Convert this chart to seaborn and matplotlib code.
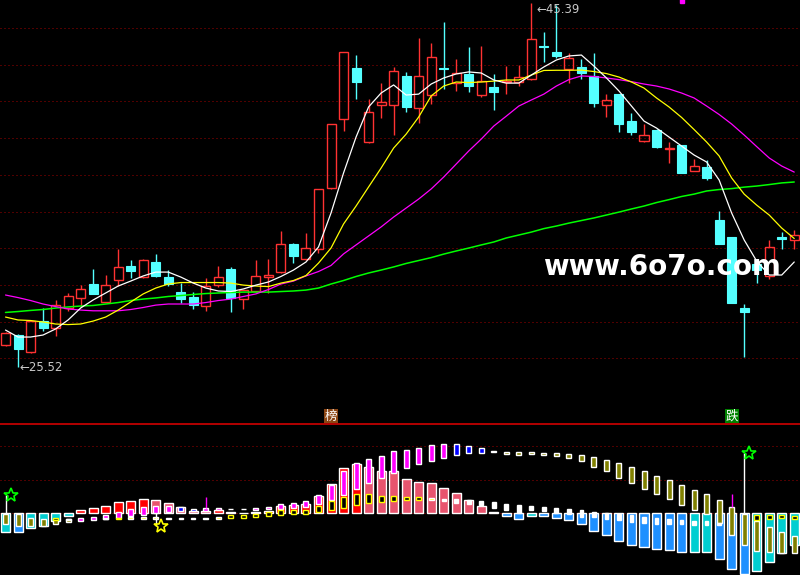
import numpy as np
import pandas as pd
import seaborn as sns
import matplotlib
matplotlib.use("Agg")
import matplotlib.pyplot as plt
from matplotlib.patches import Rectangle
from matplotlib.lines import Line2D

# daily candles, oldest first
opens = [26.73, 27.27, 26.33, 28.03, 27.63, 28.72, 29.30, 30.05, 29.08, 30.29,
         31.03, 30.42, 31.25, 30.43, 29.61, 29.34, 28.83, 30.01, 30.87, 29.22,
         29.68, 30.45, 30.69, 32.23, 31.39, 31.94, 35.26, 39.03, 41.82, 37.80,
         39.82, 39.79, 41.39, 39.66, 40.37, 41.82, 40.99, 41.50, 40.37, 40.77,
         41.04, 41.06, 41.21, 43.02, 42.71, 41.77, 41.88, 41.37, 39.79, 40.40,
         38.93, 37.83, 38.46, 37.39, 37.63, 36.23, 36.43, 33.54, 32.61, 28.76,
         31.14, 30.51, 32.59, 32.45]
highs = [27.45, 27.33, 28.05, 28.72, 29.18, 29.58, 29.99, 30.85, 30.54, 31.96,
         31.36, 31.41, 31.69, 30.81, 30.09, 29.61, 30.36, 31.03, 30.98, 29.74,
         31.36, 31.41, 32.95, 32.30, 32.83, 35.23, 38.77, 42.70, 42.53, 40.13,
         41.00, 41.89, 41.62, 43.47, 43.20, 44.33, 42.31, 42.97, 43.04, 41.49,
         41.93, 41.98, 45.39, 43.80, 45.25, 42.65, 42.30, 42.64, 40.40, 40.42,
         39.35, 38.77, 38.48, 37.79, 37.65, 36.86, 36.81, 34.03, 32.63, 28.96,
         31.30, 32.45, 32.91, 32.99]
lows = [26.67, 25.52, 26.31, 27.49, 27.23, 28.59, 28.78, 29.50, 29.06, 29.96,
        30.39, 30.37, 30.45, 29.96, 29.03, 28.69, 28.59, 29.90, 28.54, 28.70,
        29.63, 29.58, 30.67, 31.21, 31.37, 31.75, 35.24, 38.40, 40.15, 37.75,
        39.11, 38.19, 39.44, 38.84, 39.86, 40.69, 40.57, 40.53, 40.26, 39.55,
        40.40, 40.86, 41.19, 42.16, 42.35, 40.99, 41.22, 39.71, 39.17, 38.35,
        38.19, 37.81, 37.48, 36.64, 36.08, 36.21, 35.72, 32.21, 28.99, 26.07,
        30.11, 30.35, 31.98, 31.96]
closes = [27.36, 26.51, 28.03, 27.67, 28.90, 29.40, 29.78, 29.52, 29.99, 30.98,
          30.76, 31.36, 30.49, 30.03, 29.23, 28.90, 29.92, 30.41, 29.30, 29.72,
          30.49, 30.54, 32.21, 31.58, 31.99, 35.21, 38.75, 42.68, 41.07, 39.41,
          39.95, 41.66, 39.71, 41.37, 42.40, 41.77, 41.55, 40.86, 41.10, 40.53,
          41.11, 41.31, 43.40, 42.99, 42.49, 42.35, 41.56, 39.91, 40.08, 38.79,
          38.33, 38.15, 37.53, 37.46, 36.11, 36.48, 35.84, 32.23, 29.01, 28.54,
          30.81, 32.05, 32.53, 32.72]

ma5 = [27.54, 27.16, 27.16, 27.27, 27.60, 28.09, 28.74, 29.18, 29.56, 29.94,
       30.21, 30.49, 30.70, 30.70, 30.43, 30.10, 29.83, 29.67, 29.64, 29.78,
       29.99, 30.16, 30.46, 30.81, 31.25, 32.07, 33.92, 36.10, 38.06, 39.70,
       40.46, 40.90, 40.35, 40.40, 40.95, 41.28, 41.50, 41.61, 41.55, 41.17,
       41.00, 41.00, 41.44, 41.88, 42.26, 42.48, 42.53, 41.93, 41.28, 40.57,
       39.75, 38.93, 38.55, 38.06, 37.57, 37.08, 36.70, 35.72, 33.92, 32.45,
       31.30, 30.54, 30.54, 31.25]
ma10 = [28.25, 28.09, 28.06, 27.98, 27.87, 27.84, 27.87, 28.03, 28.25, 28.63,
        29.07, 29.51, 29.83, 30.05, 30.13, 30.13, 30.13, 30.13, 30.10, 29.99,
        29.94, 29.91, 30.10, 30.24, 30.51, 31.19, 32.01, 33.32, 34.30, 35.34,
        36.37, 37.46, 38.22, 39.15, 40.30, 40.84, 41.06, 41.03, 41.06, 41.11,
        41.17, 41.17, 41.44, 41.69, 41.70, 41.70, 41.71, 41.63, 41.52, 41.33,
        41.06, 40.73, 40.19, 39.70, 39.13, 38.47, 37.79, 37.03, 35.83, 34.95,
        34.35, 33.81, 33.10, 32.53]
ma20 = [29.45, 29.31, 29.15, 28.96, 28.82, 28.69, 28.63, 28.59, 28.59, 28.59,
        28.66, 28.77, 28.90, 28.96, 28.96, 28.96, 29.04, 29.15, 29.23, 29.37,
        29.51, 29.75, 30.05, 30.21, 30.49, 30.73, 31.06, 31.69, 32.18, 32.67,
        33.16, 33.70, 34.19, 34.68, 35.23, 35.88, 36.59, 37.30, 37.95, 38.66,
        39.20, 39.75, 40.08, 40.40, 40.84, 41.19, 41.39, 41.36, 41.28, 41.19,
        41.08, 40.95, 40.84, 40.68, 40.46, 40.19, 39.75, 39.29, 38.77, 38.17,
        37.54, 36.92, 36.48, 36.15]
ma60 = [28.50, 28.55, 28.61, 28.66, 28.74, 28.80, 28.85, 28.88, 28.96, 29.04,
        29.15, 29.23, 29.29, 29.37, 29.42, 29.48, 29.53, 29.56, 29.59, 29.61,
        29.61, 29.61, 29.64, 29.67, 29.72, 29.83, 30.05, 30.24, 30.46, 30.65,
        30.81, 30.98, 31.17, 31.33, 31.49, 31.68, 31.85, 32.01, 32.18, 32.34,
        32.56, 32.72, 32.88, 33.07, 33.21, 33.37, 33.51, 33.65, 33.81, 33.97,
        34.14, 34.30, 34.49, 34.65, 34.82, 34.95, 35.12, 35.20, 35.25, 35.33,
        35.39, 35.47, 35.56, 35.61]

# lower indicator panel
osc = [-5.5, -5.5, -4.3, -3.7, -2.2, -0.7, 1.0, 1.7, 2.2, 3.4,
       3.7, 4.3, 4.0, 3.1, 1.9, 0.7, 0.7, 1.0, 0.4, 0.1,
       0.4, 0.7, 2.2, 2.5, 2.8, 5.2, 8.7, 13.5, 14.7, 13.8,
       12.6, 12.6, 10.2, 9.3, 9.0, 7.6, 6.1, 4.0, 2.2, 0.4,
       -0.7, -1.6, -0.8, -0.8, -1.4, -2.0, -3.2, -5.3, -6.5, -8.3,
       -9.5, -10.1, -10.7, -11.0, -11.6, -11.6, -11.6, -13.6, -16.6, -18.1,
       -17.2, -14.5, -11.8, -9.5]
osc_kind = list("cbccccrrrr" "rrppppprpp" "rrrrrrrrrp" "pppppppppp"
                "bbcbbbbbbb" "bbbbbccbbb" "cccc")

trend_top = [-0.2, -0.2, -1.3, -1.7, -1.8, -1.7, -1.3, -1.0, -0.5, 0.5,
             1.3, 1.9, 2.2, 2.2, 1.9, 1.3, 1.6, 1.6, 1.4, 1.4,
             1.6, 1.9, 2.8, 3.1, 3.7, 5.5, 8.4, 12.6, 15.0, 16.2,
             17.1, 18.6, 18.9, 19.5, 20.4, 20.7, 20.7, 20.1, 19.5, 18.6,
             18.3, 18.3, 18.3, 18.0, 18.0, 17.7, 17.4, 16.8, 15.9, 15.0,
             13.8, 12.6, 11.1, 9.9, 8.4, 7.0, 5.8, 4.0, 1.9, -0.2,
             -2.3, -4.1, -5.6, -6.8]
trend_bot = [-3.2, -3.8, -3.8, -3.7, -3.1, -2.5, -2.2, -2.0, -1.7, -1.3,
             -0.8, -0.5, 0.0, 0.5, 0.7, 0.7, 0.7, 1.0, 1.2, 1.2,
             1.0, 1.3, 1.3, 1.7, 1.9, 2.9, 4.0, 5.5, 7.3, 9.0,
             10.5, 12.0, 13.5, 14.7, 15.6, 16.5, 17.4, 18.0, 18.0, 18.3,
             17.7, 17.4, 17.7, 17.4, 17.1, 16.5, 15.6, 13.8, 12.6, 10.5,
             9.0, 7.3, 5.8, 4.3, 2.5, 1.0, -0.2, -2.9, -6.5, -9.5,
             -11.3, -11.6, -11.9, -11.9]
trend_kind = list("oooooommmm" "mmmmuummuu" "mmmmmmmmmm" "mmmmmmuuuu"
                  "oooooooooo" "oooooooooo" "oooo")

nan = np.nan
mark_top = [nan, nan, nan, nan, -1.3, -1.6, nan, nan, -1.5, -1.3,
            -1.1, -1.1, -1.1, -1.3, -1.3, -1.3, -1.3, -1.1, -0.5, -0.5,
            -0.2, 0.4, 1.0, 1.0, 1.0, 2.3, 3.7, 4.9, 5.8, 5.8,
            5.2, 5.2, 4.9, 4.9, 4.6, 4.3, 4.3, 4.0, 3.7, 3.4,
            2.8, 2.5, 2.2, 1.9, 1.6, 1.3, 1.0, 0.4, 0.1, -0.2,
            -0.5, -1.1, -1.4, -1.7, -2.0, -2.3, -2.3, -2.9, nan, nan,
            -0.5, -0.5, -0.5, -0.8]
mark_bot = [nan, nan, nan, nan, -2.0, -1.9, nan, nan, -1.8, -1.8,
            -1.6, -1.6, -1.6, -1.6, -1.6, -1.6, -1.6, -1.6, -1.3, -1.3,
            -1.0, -0.7, -0.5, -0.2, -0.2, 0.4, 1.0, 1.6, 2.5, 3.1,
            3.4, 3.7, 4.0, 4.0, 4.0, 3.7, 3.1, 2.8, 2.5, 1.6,
            1.0, 0.1, 1.0, 0.7, 0.1, -0.2, -1.1, -1.1, -1.7, -2.0,
            -2.6, -2.9, -3.2, -3.2, -3.2, -3.5, -3.5, -3.5, nan, nan,
            -2.0, -1.8, -1.4, -1.7]
mark_kind = list("----hy--yhyyyyww" "yyhhhhhhhhhhhhhhhh" "y"
                 "wwwwwwwwwwwwwwwwwwwwwww" "--" "hhhh")

star_idx = [0, 12, 59]
star_val = [5.5, -3.8, 18.0]
star_kind = ["buy", "sell", "buy"]
spike_idx = [16, 58]
spike_lo = [1.6, 1.9]
spike_hi = [4.9, 5.8]
tag_idx = [26, 58]
tag_text = ["榜", "跌"]

# colours
RED = "#FF3232"
CYAN = "#54FFFF"
OSC_COL = {"c": "#00CED1", "b": "#1E90FF", "r": "#FF0000", "p": "#E8546E"}
TREND_COL = {"o": "#808000", "m": "#FF00FF", "u": "#0000FF"}
GRID = "#A00000"

sns.set_theme(style="dark", rc={"axes.facecolor": "black", "figure.facecolor": "black",
                                "axes.edgecolor": "black"})
plt.rcParams["font.family"] = ["DejaVu Sans", "Noto Sans CJK SC"]

fig = plt.figure(figsize=(8, 5.75), dpi=100)
ax = fig.add_axes([0, 151 / 575, 1, 424 / 575])
ax2 = fig.add_axes([0, 0, 1, 151 / 575])
for a in (ax, ax2):
    a.set_facecolor("black")
    a.set_xlim(-0.44, 63.46)
    a.set_xticks([])
    a.set_yticks([])
    a.grid(False)
    for s in a.spines.values():
        s.set_visible(False)
ax.set_ylim(22.42, 45.53)
ax2.set_ylim(-18.42, 26.66)

x = np.arange(len(closes))

# price grid
for p in range(26, 45, 2):
    ax.axhline(p, color=GRID, lw=0.72, ls=(0, (1, 3)), zorder=0)

# candles
w = 0.72
for i in x:
    o, h, l, c = opens[i], highs[i], lows[i], closes[i]
    lo_b, hi_b = min(o, c), max(o, c)
    if c >= o:
        ax.vlines(i, l, lo_b, color=RED, lw=1.0, zorder=2)
        ax.vlines(i, hi_b, h, color=RED, lw=1.0, zorder=2)
        ax.add_patch(Rectangle((i - w / 2, lo_b), w, max(hi_b - lo_b, 0.03),
                               facecolor="none", edgecolor=RED, lw=1.0, zorder=2))
    else:
        ax.vlines(i, l, h, color=CYAN, lw=1.0, zorder=2)
        ax.add_patch(Rectangle((i - w / 2, lo_b), w, max(hi_b - lo_b, 0.03),
                               facecolor=CYAN, edgecolor=CYAN, lw=0.8, zorder=2))

# moving averages
ma = pd.DataFrame({"x": x, "ma5": ma5, "ma10": ma10, "ma20": ma20, "ma60": ma60})
for col, color, lw in [("ma60", "#00FF00", 1.1), ("ma20", "#FF00FF", 0.9),
                       ("ma10", "#FFFF00", 0.9), ("ma5", "white", 0.9)]:
    sns.lineplot(data=ma, x="x", y=col, color=color, lw=lw, ax=ax, zorder=3)
ax.set_xlabel("")
ax.set_ylabel("")

# high / low markers
hi_i = int(np.argmax(highs))
lo_i = int(np.argmin(lows))
ax.text(hi_i + 0.45, highs[hi_i], "←%.2f" % highs[hi_i], color="#C8C8C8",
        fontsize=8.5, ha="left", va="top", zorder=5)
ax.text(lo_i + 0.1, lows[lo_i], "←%.2f" % lows[lo_i], color="#C8C8C8",
        fontsize=8.5, ha="left", va="center", zorder=5)
ax.plot([54], [45.45], marker="s", color="#FF00FF", ms=3, zorder=5)

# tags at the bottom of price panel
for i, t, bg in zip(tag_idx, tag_text, ["#8B4513", "#008000"]):
    ax.text(i, 22.85, t, color="white", fontsize=9, ha="center", va="center",
            family=["Noto Sans CJK SC", "DejaVu Sans"],
            bbox=dict(boxstyle="square,pad=0.05", fc=bg, ec="none"), zorder=6)

# watermark
ax.text(52.44, 31.0, "www.6o7o.com", color="white", fontsize=20, fontweight="bold",
        ha="center", va="center", zorder=10)

# separator
fig.add_artist(Line2D([0, 1], [151 / 575, 151 / 575], color="#D00000", lw=1.2))

# lower panel
for v in (0, 10, 20):
    ax2.axhline(v, color=GRID, lw=0.72, ls=(0, (1, 3)), zorder=0)
ax2.bar(x, osc, width=0.72, color=[OSC_COL[k] for k in osc_kind], zorder=1)
ax2.bar(x, np.array(trend_top) - np.array(trend_bot), bottom=trend_bot, width=0.4,
        color=[TREND_COL[k] for k in trend_kind], zorder=2)
ax2.vlines(spike_idx, spike_lo, spike_hi, color="#FF00FF", lw=1, zorder=2)
mt = np.array(mark_top)
mb = np.array(mark_bot)
for i in x:
    k = mark_kind[i]
    if k == "-":
        continue
    if k == "h":
        ax2.add_patch(Rectangle((i - 0.2, mb[i]), 0.4, mt[i] - mb[i], facecolor="black",
                                edgecolor="#FFFF00", lw=1.0, zorder=3))
    elif k == "y":
        ax2.bar(i, mt[i] - mb[i], bottom=mb[i], width=0.4, color="#FFFF00", zorder=3)
    else:
        ax2.bar(i, mt[i] - mb[i], bottom=mb[i], width=0.3, color="white", zorder=3)
star_col = {"buy": "#00FF00", "sell": "#FFFF00"}
for i, v, k in zip(star_idx, star_val, star_kind):
    ax2.vlines(i, 0, v, color="white", lw=1, zorder=3)
    ax2.plot(i + 0.4, v, marker="*", ms=10, mfc="none", mec=star_col[k], mew=1.2, zorder=4)

fig.savefig("out.png", dpi=100, facecolor="black")
